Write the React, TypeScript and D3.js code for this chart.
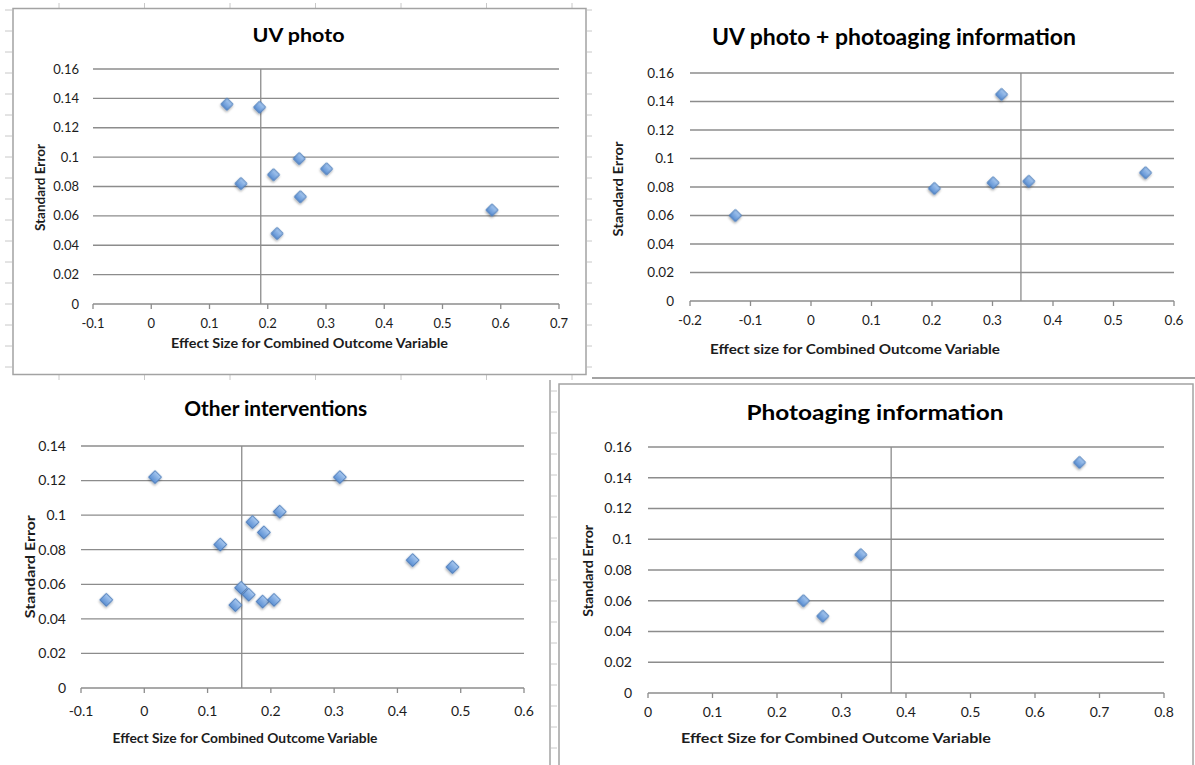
import React from "react";
import * as d3 from "d3";

// ---------- DATA ----------
const uvPhotoEffect = [0.13, 0.186, 0.254, 0.301, 0.21, 0.154, 0.256, 0.585, 0.216];
const uvPhotoSE = [0.136, 0.134, 0.099, 0.092, 0.088, 0.082, 0.073, 0.064, 0.048];
const uvPhotoMean = 0.188;

const uvInfoEffect = [-0.125, 0.204, 0.301, 0.315, 0.36, 0.553];
const uvInfoSE = [0.06, 0.079, 0.083, 0.145, 0.084, 0.09];
const uvInfoMean = 0.347;

const otherEffect = [-0.06, 0.017, 0.309, 0.214, 0.171, 0.189, 0.12, 0.424, 0.487, 0.153, 0.165, 0.144, 0.187, 0.205];
const otherSE = [0.051, 0.122, 0.122, 0.102, 0.096, 0.09, 0.083, 0.074, 0.07, 0.058, 0.054, 0.048, 0.05, 0.051];
const otherMean = 0.154;

const photoagingEffect = [0.669, 0.33, 0.241, 0.271];
const photoagingSE = [0.15, 0.09, 0.06, 0.05];
const photoagingMean = 0.377;

const xTicksUV = [-0.1, 0, 0.1, 0.2, 0.3, 0.4, 0.5, 0.6, 0.7];
const xTicksUVInfo = [-0.2, -0.1, 0, 0.1, 0.2, 0.3, 0.4, 0.5, 0.6];
const xTicksOther = [-0.1, 0, 0.1, 0.2, 0.3, 0.4, 0.5, 0.6];
const xTicksPhotoaging = [0, 0.1, 0.2, 0.3, 0.4, 0.5, 0.6, 0.7, 0.8];
const yTicks16 = [0, 0.02, 0.04, 0.06, 0.08, 0.1, 0.12, 0.14, 0.16];
const yTicks14 = [0, 0.02, 0.04, 0.06, 0.08, 0.1, 0.12, 0.14];

const titles = ["UV photo", "UV photo + photoaging information", "Other interventions", "Photoaging information"];
const xTitles = [
  "Effect Size for Combined Outcome Variable",
  "Effect size for Combined Outcome Variable",
  "Effect Size for Combined Outcome Variable",
  "Effect Size for Combined Outcome Variable",
];
const yTitle = "Standard Error";

// ---------- LAYOUT ----------
const layouts = [
  { left: 93, right: 559, top: 69, bottom: 304, tX: 298.5, tY: 42, tSize: 19, tLen: 92, axX: 309.5, axY: 348, axLen: 277, axSize: 12.5, yX: 40.7, yCy: 187.5, yLen: 87, yLabR: 79, xLabY: 328, lab: 13, m: 12 },
  { left: 690, right: 1174, top: 73, bottom: 301, tX: 894, tY: 45, tSize: 22, tLen: 364, axX: 855, axY: 354, axLen: 290, axSize: 13, yX: 618.5, yCy: 189, yLen: 95, yLabR: 674, xLabY: 325, lab: 13.5, m: 12 },
  { left: 81, right: 524, top: 446, bottom: 688, tX: 275.7, tY: 416, tSize: 20, tLen: 183, axX: 245, axY: 743, axLen: 265, axSize: 13, yX: 31, yCy: 566.7, yLen: 103, yLabR: 66, xLabY: 716, lab: 14, m: 13 },
  { left: 648, right: 1164, top: 447, bottom: 693, tX: 875, tY: 420, tSize: 21, tLen: 257, axX: 836, axY: 743, axLen: 310, axSize: 13.5, yX: 589, yCy: 570.8, yLen: 92, yLabR: 632, xLabY: 717, lab: 14, m: 12 },
];

const series = [
  { effect: uvPhotoEffect, se: uvPhotoSE, mean: uvPhotoMean, xTicks: xTicksUV, yTicks: yTicks16 },
  { effect: uvInfoEffect, se: uvInfoSE, mean: uvInfoMean, xTicks: xTicksUVInfo, yTicks: yTicks16 },
  { effect: otherEffect, se: otherSE, mean: otherMean, xTicks: xTicksOther, yTicks: yTicks14 },
  { effect: photoagingEffect, se: photoagingSE, mean: photoagingMean, xTicks: xTicksPhotoaging, yTicks: yTicks16 },
];

const FONT = "Lato, 'Open Sans', sans-serif";
const GRID = "#8c8c8c";
const TXT = "#1c1c1c";
const FRAME = "#a3a3a3";
const SHEET = "#c8c8c8";

const fmt = (v: number) => String(+v.toFixed(2));

function Panel({ idx }: { idx: number }) {
  const L = layouts[idx];
  const S = series[idx];
  const x = d3.scaleLinear().domain([S.xTicks[0], S.xTicks[S.xTicks.length - 1]]).range([L.left, L.right]);
  const y = d3.scaleLinear().domain([S.yTicks[0], S.yTicks[S.yTicks.length - 1]]).range([L.bottom, L.top]);
  const side = L.m / Math.SQRT2;
  const diamond = d3.symbol(d3.symbolSquare, side * side)() as string;
  return (
    <g>
      {S.yTicks.map((t) => (
        <line key={"g" + t} x1={L.left} x2={L.right} y1={y(t)} y2={y(t)} stroke={GRID} strokeWidth={1.3} />
      ))}
      {S.xTicks.map((t) => (
        <line key={"xt" + t} x1={x(t)} x2={x(t)} y1={y(0)} y2={y(0) + 5} stroke={GRID} strokeWidth={1.3} />
      ))}
      <line x1={x(S.mean)} x2={x(S.mean)} y1={y(0)} y2={y(S.yTicks[S.yTicks.length - 1])} stroke={GRID} strokeWidth={1.3} />
      {S.yTicks.map((t) => (
        <text key={"yl" + t} x={L.yLabR} y={y(t)} dy="0.35em" textAnchor="end" fontSize={L.lab} fill={TXT} fontFamily={FONT}>
          {fmt(t)}
        </text>
      ))}
      {S.xTicks.map((t) => (
        <text key={"xl" + t} x={x(t)} y={L.xLabY} textAnchor="middle" fontSize={L.lab} fill={TXT} fontFamily={FONT}>
          {fmt(t)}
        </text>
      ))}
      {S.effect.map((e, i) => (
        <path
          key={"p" + i}
          d={diamond}
          transform={`translate(${x(e)},${y(S.se[i])}) rotate(45)`}
          fill="url(#mk)"
          stroke="#4477b8"
          strokeWidth={0.9}
          filter="url(#sh)"
        />
      ))}
      <text x={L.tX} y={L.tY} textAnchor="middle" fontSize={L.tSize} fontWeight="bold" fill="#000" fontFamily={FONT} textLength={L.tLen} lengthAdjust="spacingAndGlyphs">
        {titles[idx]}
      </text>
      <text x={L.axX} y={L.axY} textAnchor="middle" fontSize={L.axSize} fontWeight="bold" fill={TXT} fontFamily={FONT} textLength={L.axLen} lengthAdjust="spacingAndGlyphs">
        {xTitles[idx]}
      </text>
      <text
        transform={`translate(${L.yX},${L.yCy}) rotate(-90)`}
        textAnchor="middle"
        dy="0.35em"
        fontSize={12.5}
        fontWeight="bold"
        fill={TXT}
        fontFamily={FONT}
        textLength={L.yLen}
        lengthAdjust="spacingAndGlyphs"
      >
        {yTitle}
      </text>
    </g>
  );
}

export default function App() {
  const rows = d3.range(10, 372, 21);
  const rows4 = d3.range(391, 765, 21);
  const cols = d3.range(59, 590, 85.5);
  return (
    <div style={{ position: "absolute", left: 0, top: 0 }}>
      <svg width={1195} height={765} style={{ display: "block", background: "#fff" }}>
        <defs>
          <linearGradient id="mk" x1="0" y1="0" x2="0" y2="1">
            <stop offset="0" stopColor="#a9c9f0" />
            <stop offset="1" stopColor="#5b8fd3" />
          </linearGradient>
          <filter id="sh" x="-50%" y="-50%" width="200%" height="200%">
            <feDropShadow dx="0.8" dy="1.4" stdDeviation="0.9" floodColor="#000" floodOpacity="0.35" />
          </filter>
        </defs>
        {/* spreadsheet row / column marks */}
        {rows.map((r) => (
          <line key={"rl" + r} x1={5} x2={12} y1={r} y2={r} stroke={SHEET} strokeWidth={1} />
        ))}
        {rows.map((r) => (
          <line key={"rr" + r} x1={587} x2={592} y1={r} y2={r} stroke={SHEET} strokeWidth={1} />
        ))}
        {cols.map((c) => (
          <line key={"cb" + c} x1={c} x2={c} y1={375} y2={380} stroke={SHEET} strokeWidth={1} />
        ))}
        {cols.map((c) => (
          <line key={"ct" + c} x1={c} x2={c} y1={3} y2={8} stroke={SHEET} strokeWidth={1} />
        ))}
        {rows4.map((r) => (
          <line key={"r4" + r} x1={551} x2={557} y1={r} y2={r} stroke={SHEET} strokeWidth={1} />
        ))}
        {/* frames */}
        <rect x={13} y={8.5} width={573} height={366} fill="none" stroke={FRAME} strokeWidth={1.5} />
        <line x1={592} x2={1195} y1={378} y2={378} stroke={FRAME} strokeWidth={2} />
        <line x1={550} x2={550} y1={380} y2={765} stroke={FRAME} strokeWidth={1.5} />
        <rect x={559} y={384} width={634} height={400} fill="none" stroke={FRAME} strokeWidth={1.5} />
        {[0, 1, 2, 3].map((i) => (
          <Panel key={i} idx={i} />
        ))}
      </svg>
    </div>
  );
}
